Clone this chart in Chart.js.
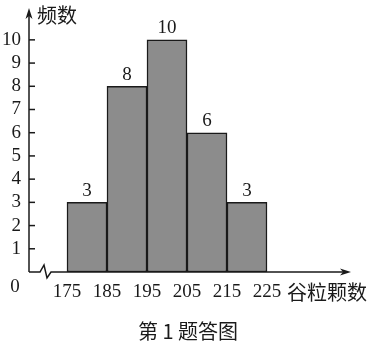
<!DOCTYPE html>
<html>
<head>
<meta charset="utf-8">
<script src="https://cdn.jsdelivr.net/npm/chart.js@4"></script>
<style>
  body { margin: 0; background: #fff; }
  #wrap { width: 373px; height: 346px; }
</style>
</head>
<body>
<div id="wrap"><canvas id="chart"></canvas></div>
<script>
const binCenters = [180, 190, 200, 210, 220];
const counts = [3, 8, 10, 6, 3];
const xTicks = [175, 185, 195, 205, 215, 225];
const yTicks = [1, 2, 3, 4, 5, 6, 7, 8, 9, 10];
const yTitle = '频数';
const xTitle = '谷粒颗数';
const caption = '第 1 题答图';

const serif = '"Liberation Serif", "DejaVu Serif", serif';
const cjk = '"Noto Sans CJK SC", sans-serif';
const ink = '#1a1a1a';

const axesPlugin = {
  id: 'axes',
  afterDraw(chart) {
    const ctx = chart.ctx;
    const area = chart.chartArea;
    const ys = chart.scales.y;
    const x0 = area.left;
    const y0 = ys.getPixelForValue(0);

    ctx.save();
    ctx.strokeStyle = ink;
    ctx.fillStyle = ink;
    ctx.lineWidth = 1.5;

    // y axis + arrow
    ctx.beginPath();
    ctx.moveTo(x0, y0);
    ctx.lineTo(x0, area.top + 4);
    ctx.stroke();
    ctx.beginPath();
    ctx.moveTo(x0, area.top - 4);
    ctx.lineTo(x0 - 3.5, area.top + 7);
    ctx.lineTo(x0, area.top + 4);
    ctx.lineTo(x0 + 3.5, area.top + 7);
    ctx.closePath();
    ctx.fill();

    // y ticks (inside)
    yTicks.forEach(v => {
      const py = ys.getPixelForValue(v);
      ctx.beginPath();
      ctx.moveTo(x0, py);
      ctx.lineTo(x0 + 6, py);
      ctx.stroke();
    });

    // x axis with break mark + arrow
    ctx.beginPath();
    ctx.moveTo(x0, y0);
    ctx.lineTo(x0 + 11, y0);
    ctx.lineTo(x0 + 15, y0 - 7);
    ctx.lineTo(x0 + 18, y0 + 6);
    ctx.lineTo(x0 + 22, y0);
    ctx.lineTo(area.right - 4, y0);
    ctx.stroke();
    ctx.beginPath();
    ctx.moveTo(area.right + 2, y0);
    ctx.lineTo(area.right - 9, y0 - 3.5);
    ctx.lineTo(area.right - 6, y0);
    ctx.lineTo(area.right - 9, y0 + 3.5);
    ctx.closePath();
    ctx.fill();

    // origin label
    ctx.font = '19px ' + serif;
    ctx.textAlign = 'center';
    ctx.textBaseline = 'middle';
    ctx.fillText('0', 15, y0 + 15);

    // value labels above bars
    const meta = chart.getDatasetMeta(0);
    ctx.textBaseline = 'bottom';
    meta.data.forEach((bar, i) => {
      ctx.fillText(String(counts[i]), bar.x, bar.y - 2);
    });

    // titles
    ctx.font = '20px ' + cjk;
    ctx.textAlign = 'left';
    ctx.textBaseline = 'middle';
    ctx.fillText(yTitle, x0 + 8, 15);
    ctx.fillText(xTitle, 287, y0 + 20);
    ctx.textAlign = 'center';
    ctx.fillText(caption, 188, 331);
    ctx.restore();
  }
};

new Chart(document.getElementById('chart'), {
  type: 'bar',
  data: {
    datasets: [{
      data: binCenters.map((c, i) => ({ x: c, y: counts[i] })),
      backgroundColor: '#8c8c8c',
      borderColor: ink,
      borderWidth: 1.5,
      borderSkipped: false,
      barPercentage: 1,
      categoryPercentage: 1
    }]
  },
  options: {
    responsive: true,
    maintainAspectRatio: false,
    animation: false,
    events: [],
    layout: { padding: { top: 12, right: 24, bottom: 0, left: 0 } },
    plugins: { legend: { display: false }, tooltip: { enabled: false } },
    scales: {
      x: {
        type: 'linear',
        offset: false,
        min: 165.5,
        max: 245.5,
        afterBuildTicks: s => { s.ticks = xTicks.map(v => ({ value: v })); },
        afterFit: s => { s.height = 74; s.paddingLeft = 0; s.paddingRight = 0; },
        grid: { display: false, drawTicks: false, offset: false },
        border: { display: false },
        ticks: { color: ink, font: { family: serif, size: 19 }, padding: 9, maxRotation: 0, autoSkip: false }
      },
      y: {
        min: 0,
        max: 11.2,
        afterBuildTicks: s => { s.ticks = yTicks.map(v => ({ value: v })); },
        afterFit: s => { s.width = 29; s.paddingTop = 0; s.paddingBottom = 0; },
        grid: { display: false, drawTicks: false },
        border: { display: false },
        ticks: { color: ink, font: { family: serif, size: 19 }, padding: 8, autoSkip: false }
      }
    }
  },
  plugins: [axesPlugin]
});
</script>
</body>
</html>
